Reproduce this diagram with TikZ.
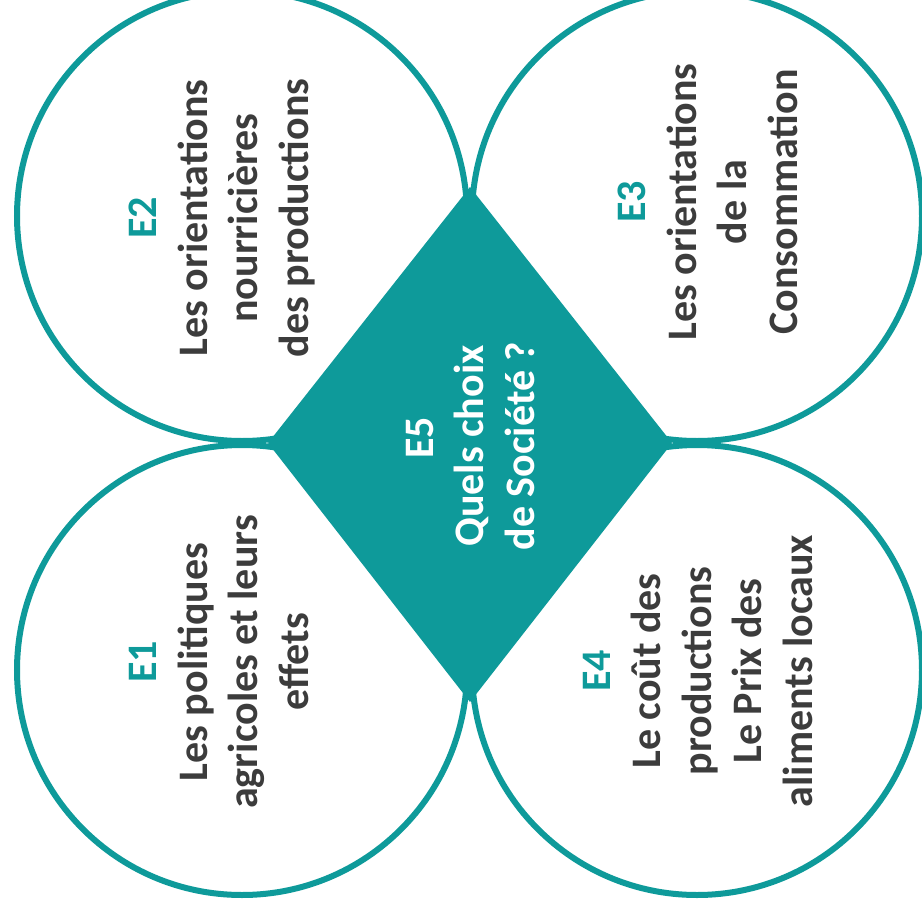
\documentclass[tikz,border=0pt]{standalone}
\usepackage{fontspec}
\setmainfont{Carlito}
\definecolor{ringteal}{RGB}{14,154,154}
\definecolor{inkgray}{RGB}{60,60,60}

\begin{document}
\begin{tikzpicture}[x=1pt,y=-1pt,
  ring/.style={draw=ringteal, line width=6pt, fill=white},
  % anchor=base sits on the baseline of the last line
  blocktext/.style={rotate=90, anchor=base, align=center, inner sep=0pt,
    font=\bfseries\fontsize{42}{50.5}\selectfont, text=inkgray}]
  \useasboundingbox (0,0) rectangle (922,916);
  \clip (0,0) rectangle (922,916);

  % four tangent rings
  \coordinate (c2) at (242,216);
  \coordinate (c3) at (697,216);
  \coordinate (c1) at (242,670);
  \coordinate (c4) at (697,670);
  \foreach \c in {c1,c2,c3,c4}
    \draw[ring] (\c) circle[radius=225];

  % central diamond
  \coordinate (dl) at (268,443);
  \coordinate (dt) at (470,187);
  \coordinate (dr) at (672,443);
  \coordinate (db) at (470,702);
  \fill[ringteal] (dl) -- (dt) -- (dr) -- (db) -- cycle;

  % texts, read from bottom to top
  \node[blocktext] (e2) at (308,218)
    {\textcolor{ringteal}{E2}\\Les orientations\\nourricières\\des productions};
  \node[blocktext] (e3) at (797,202)
    {\textcolor{ringteal}{E3}\\Les orientations\\de la\\Consommation};
  \node[blocktext] (e1) at (308,662)
    {\textcolor{ringteal}{E1}\\Les politiques\\agricoles et leurs\\effets};
  \node[blocktext] (e4) at (812,671)
    {\textcolor{ringteal}{E4}\\Le coût des\\productions\\Le Prix des\\aliments locaux};
  \node[blocktext, text=white] (e5) at (534,446)
    {\hspace*{16pt}E5\\Quels choix\\de Société ?};
\end{tikzpicture}
\end{document}
